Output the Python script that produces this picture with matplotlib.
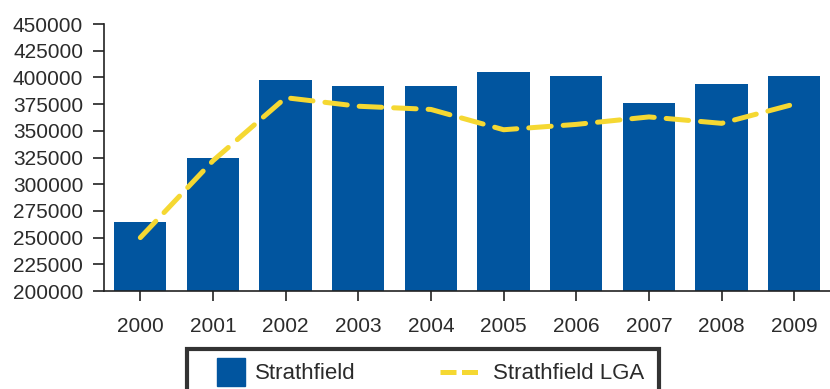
import matplotlib
matplotlib.use('Agg')
import matplotlib.pyplot as plt
import matplotlib.patches as patches
from matplotlib.lines import Line2D
from matplotlib.legend_handler import HandlerPatch

# values
years = ['2000', '2001', '2002', '2003', '2004', '2005', '2006', '2007', '2008', '2009']
strathfield = [265000, 325000, 397500, 392000, 392000, 405000, 401000, 376000, 394000, 401000]
strathfield_lga = [250000, 322000, 381000, 373000, 370000, 351000, 356000, 363000, 357000, 375000]
y_ticks = list(range(200000, 450001, 25000))

BAR_COLOR = '#01559f'
LINE_COLOR = '#f5d832'
TEXT_COLOR = '#2b2b2b'

plt.rcParams['font.family'] = ['Liberation Sans', 'DejaVu Sans']

fig = plt.figure(figsize=(8.3, 3.89), dpi=100)
ax = fig.add_axes([0.1253, 0.2519, 0.8754, 0.6864])

x = list(range(len(years)))
ax.bar(x, strathfield, width=0.72, color=BAR_COLOR, zorder=2)
ax.plot(x, strathfield_lga, color=LINE_COLOR, linewidth=3.6,
        dashes=(4.5, 2.4), dash_capstyle='round', zorder=3)

ax.set_xlim(-0.5, len(years) - 0.5)
ax.set_ylim(200000, 450000)
ax.set_yticks(y_ticks)
ax.set_yticklabels([str(v) for v in y_ticks])
ax.set_xticks(x)
ax.set_xticklabels(years)

for side in ('top', 'right'):
    ax.spines[side].set_visible(False)
for side in ('left', 'bottom'):
    ax.spines[side].set_linewidth(1.2)
    ax.spines[side].set_color('#222222')

ax.tick_params(axis='y', direction='out', length=8, width=1.2, pad=7,
               labelsize=15, labelcolor=TEXT_COLOR, color='#222222')
ax.tick_params(axis='x', direction='out', length=7.5, width=1.2, pad=11,
               labelsize=15, labelcolor=TEXT_COLOR, color='#222222')


def square_patch(legend, orig_handle, xdescent, ydescent, width, height, fontsize):
    # square swatch, pushed to the right end of the handle box
    side = 28 * 72 / 100
    return patches.Rectangle((-xdescent + width - side, -ydescent + height / 2 - side / 2),
                             side, side)


handles = [
    patches.Patch(color=BAR_COLOR, label='Strathfield'),
    Line2D([0], [0], color=LINE_COLOR, linewidth=3.6, dashes=(3.2, 1.1),
           label='Strathfield LGA'),
]
leg = fig.legend(handles=handles, loc='upper left',
                 bbox_to_anchor=(187 / 830, 1 - 349 / 389), ncol=2,
                 fontsize=16, frameon=True, fancybox=False,
                 handlelength=1.95, handletextpad=0.45, columnspacing=3.8,
                 borderpad=0.65, borderaxespad=0,
                 handler_map={patches.Patch: HandlerPatch(patch_func=square_patch)})
leg.get_frame().set_edgecolor('black')
leg.get_frame().set_linewidth(3)
for t in leg.get_texts():
    t.set_color(TEXT_COLOR)

fig.savefig('out.png', dpi=100)
